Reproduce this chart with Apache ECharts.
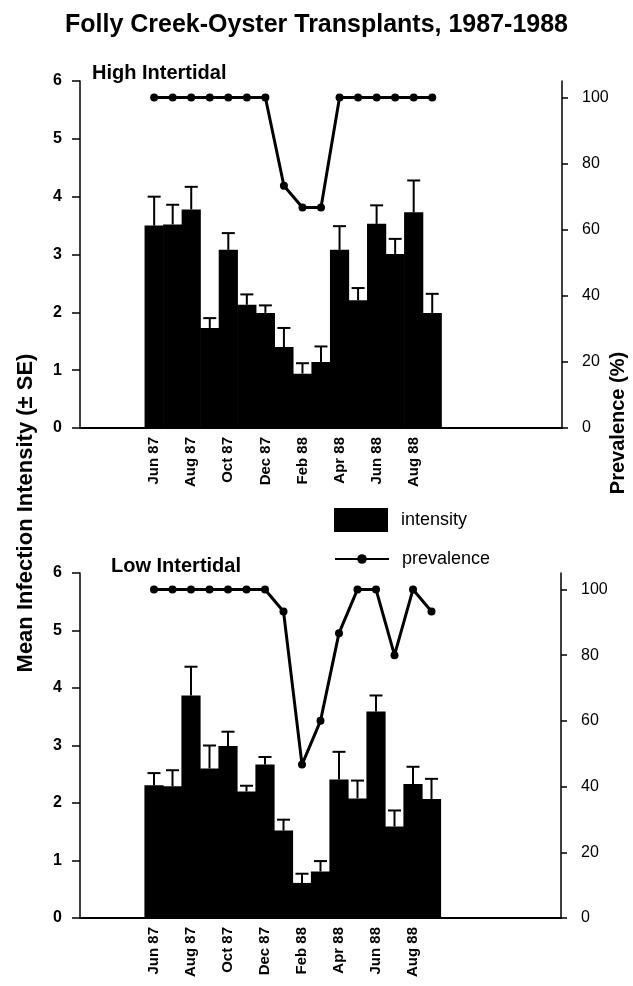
<!DOCTYPE html>
<html>
<head>
<meta charset="utf-8">
<script src="https://cdn.jsdelivr.net/npm/echarts@6/dist/echarts.min.js"></script>
<style>
  html, body { margin: 0; padding: 0; background: #fff; }
  #chart { width: 633px; height: 986px; }
</style>
</head>
<body>
<div id="chart"></div>
<script>
// Monthly sampling dates, June 1987 - September 1988
const months = ['Jun 87', 'Jul 87', 'Aug 87', 'Sep 87', 'Oct 87', 'Nov 87', 'Dec 87', 'Jan 88',
                'Feb 88', 'Mar 88', 'Apr 88', 'May 88', 'Jun 88', 'Jul 88', 'Aug 88', 'Sep 88'];
const tickMonths = ['Jun 87', 'Aug 87', 'Oct 87', 'Dec 87', 'Feb 88', 'Apr 88', 'Jun 88', 'Aug 88'];

// High intertidal site
const highIntensity = [3.50, 3.52, 3.78, 1.73, 3.08, 2.13, 1.99, 1.40, 0.94, 1.14, 3.08, 2.21, 3.53, 3.01, 3.73, 1.99];
const highSE        = [0.50, 0.34, 0.39, 0.17, 0.29, 0.18, 0.13, 0.33, 0.18, 0.27, 0.41, 0.21, 0.32, 0.26, 0.55, 0.33];
const highPrevalence = [100, 100, 100, 100, 100, 100, 100, 73.3, 66.7, 66.7, 100, 100, 100, 100, 100, 100];

// Low intertidal site
const lowIntensity = [2.31, 2.29, 3.87, 2.60, 2.99, 2.20, 2.67, 1.52, 0.61, 0.81, 2.41, 2.08, 3.59, 1.59, 2.33, 2.07];
const lowSE        = [0.21, 0.28, 0.50, 0.40, 0.25, 0.10, 0.13, 0.19, 0.16, 0.18, 0.48, 0.31, 0.28, 0.28, 0.30, 0.35];
const lowPrevalence = [100, 100, 100, 100, 100, 100, 100, 93.3, 46.7, 60, 86.7, 100, 100, 80, 100, 93.3];

const prevalenceTicks = [0, 20, 40, 60, 80, 100];

const FONT = '"Liberation Sans Narrow", "Arial Narrow", "Liberation Sans", Arial, sans-serif';
const INK = '#000';

const chart = echarts.init(document.getElementById('chart'), null, { renderer: 'canvas' });

function monthLabel(v) {
  const name = months[v];
  return name && tickMonths.indexOf(name) >= 0 ? name : '';
}

function xAxisFor(gridIndex) {
  return {
    type: 'value', gridIndex, min: -4, max: 22, interval: 2,
    axisLine: { lineStyle: { color: INK, width: 2 } },
    axisTick: { show: false },
    splitLine: { show: false },
    axisLabel: {
      rotate: 90, margin: 9, color: INK, fontFamily: FONT, fontSize: 15, fontWeight: 'bold',
      formatter: monthLabel
    }
  };
}

function leftAxisFor(gridIndex) {
  return {
    type: 'value', gridIndex, position: 'left', min: 0, max: 6, interval: 1,
    axisLine: { show: true, onZero: false, lineStyle: { color: INK, width: 1.5 } },
    axisTick: { show: true, length: 8, lineStyle: { color: INK, width: 1.5 } },
    splitLine: { show: false },
    axisLabel: { margin: 18, color: INK, fontFamily: FONT, fontSize: 16, fontWeight: 'bold' }
  };
}

function rightAxisFor(gridIndex) {
  return {
    type: 'value', gridIndex, position: 'right', min: 0, max: 105,
    axisLine: { show: true, onZero: false, lineStyle: { color: INK, width: 1.5 } },
    axisTick: { show: true, length: 6, customValues: prevalenceTicks, lineStyle: { color: INK, width: 1.5 } },
    splitLine: { show: false },
    axisLabel: { margin: 20, customValues: prevalenceTicks, color: INK, fontFamily: FONT, fontSize: 16 }
  };
}

// Upper standard-error whisker with a short cap
function renderError(params, api) {
  const x = api.value(0), y = api.value(1), e = api.value(2);
  const base = api.coord([x, y]);
  const top = api.coord([x, y + e]);
  const hw = 6.5;
  const style = { stroke: INK, lineWidth: 2 };
  return {
    type: 'group',
    children: [
      { type: 'line', shape: { x1: base[0], y1: base[1], x2: top[0], y2: top[1] }, style },
      { type: 'line', shape: { x1: top[0] - hw, y1: top[1], x2: top[0] + hw, y2: top[1] }, style }
    ]
  };
}

function seriesFor(gridIndex, intensity, se, prevalence) {
  const yLeft = gridIndex * 2, yRight = gridIndex * 2 + 1;
  return [
    {
      name: 'intensity', type: 'bar', xAxisIndex: gridIndex, yAxisIndex: yLeft,
      barWidth: 19.2, z: 2,
      itemStyle: { color: INK },
      data: intensity.map((v, i) => [i, v])
    },
    {
      name: 'SE', type: 'custom', xAxisIndex: gridIndex, yAxisIndex: yLeft,
      renderItem: renderError, z: 3,
      encode: { x: 0, y: 1 },
      data: intensity.map((v, i) => [i, v, se[i]])
    },
    {
      name: 'prevalence', type: 'line', xAxisIndex: gridIndex, yAxisIndex: yRight,
      symbol: 'circle', symbolSize: 8, z: 4,
      lineStyle: { color: INK, width: 3 }, itemStyle: { color: INK },
      data: prevalence.map((v, i) => [i, v])
    }
  ];
}

const option = {
  backgroundColor: '#fff',
  animation: false,
  textStyle: { fontFamily: FONT },
  title: [
    { text: 'Folly Creek-Oyster Transplants, 1987-1988', left: 'center', top: 8,
      textStyle: { fontFamily: FONT, fontSize: 25, fontWeight: 'bold', color: INK } },
    { text: 'High Intertidal', left: 87, top: 58,
      textStyle: { fontFamily: FONT, fontSize: 20, fontWeight: 'bold', color: INK } },
    { text: 'Low Intertidal', left: 106, top: 551,
      textStyle: { fontFamily: FONT, fontSize: 20, fontWeight: 'bold', color: INK } }
  ],
  legend: [
    { data: [{ name: 'intensity', icon: 'rect' }], left: 329, top: 503, itemWidth: 54, itemHeight: 24,
      selectedMode: false,
      textStyle: { fontFamily: FONT, fontSize: 18, color: INK, padding: [0, 0, 0, 8] } },
    { data: ['prevalence'], left: 329, top: 545, itemWidth: 54, itemHeight: 12,
      selectedMode: false,
      textStyle: { fontFamily: FONT, fontSize: 18, color: INK, padding: [0, 0, 0, 8] } }
  ],
  grid: [
    { left: 80, top: 81, width: 482, height: 347 },
    { left: 80, top: 573, width: 481, height: 345 }
  ],
  xAxis: [xAxisFor(0), xAxisFor(1)],
  yAxis: [leftAxisFor(0), rightAxisFor(0), leftAxisFor(1), rightAxisFor(1)],
  graphic: [
    { type: 'text', x: 26, y: 513, rotation: Math.PI / 2,
      style: { text: 'Mean Infection Intensity (\u00b1 SE)', fill: INK, font: 'bold 22px ' + FONT,
               align: 'center', verticalAlign: 'middle' } },
    { type: 'text', x: 618, y: 423, rotation: Math.PI / 2,
      style: { text: 'Prevalence (%)', fill: INK, font: 'bold 20px ' + FONT,
               align: 'center', verticalAlign: 'middle' } }
  ],
  series: [].concat(
    seriesFor(0, highIntensity, highSE, highPrevalence),
    seriesFor(1, lowIntensity, lowSE, lowPrevalence)
  )
};

chart.setOption(option);
</script>
</body>
</html>
